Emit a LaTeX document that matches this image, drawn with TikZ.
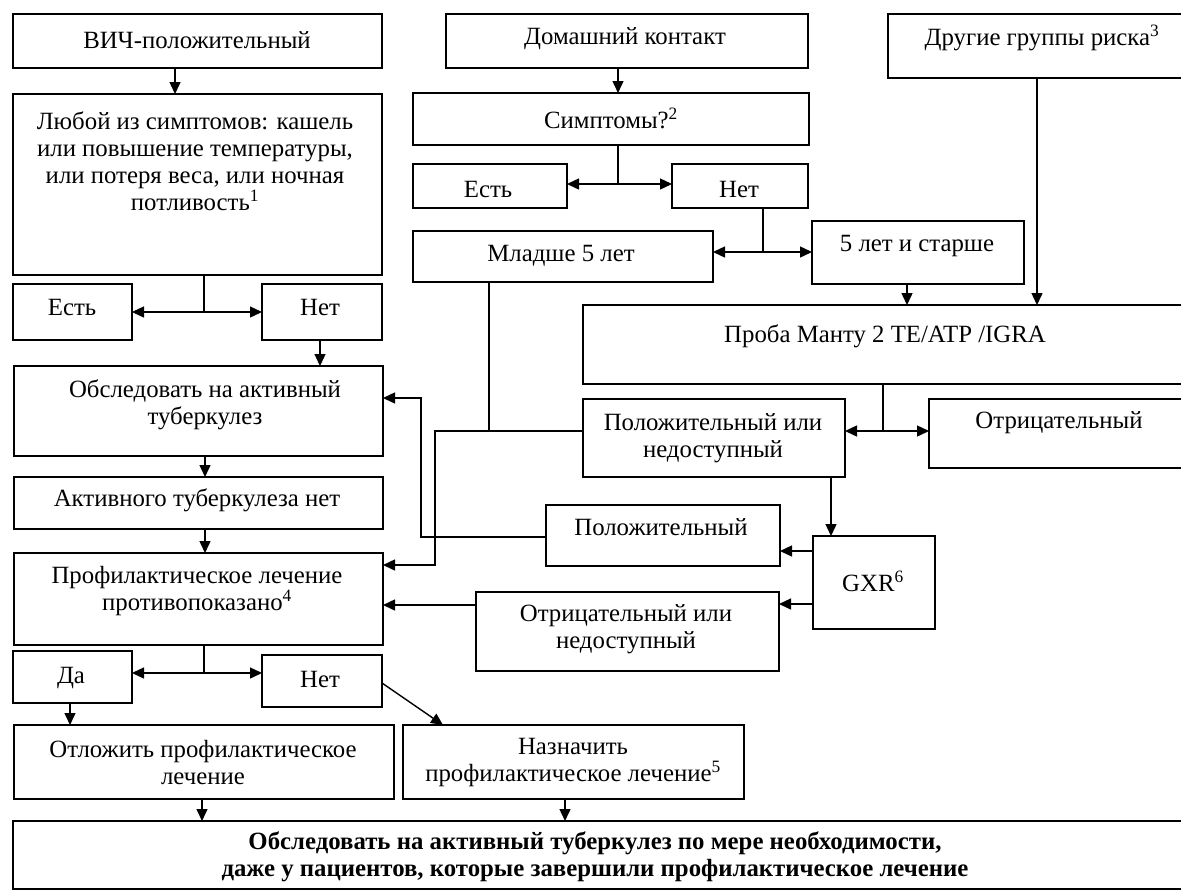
\documentclass[tikz,border=0pt]{standalone}
\usepackage{fontspec}
\setmainfont{Liberation Serif}
\usetikzlibrary{arrows.meta}
\newcommand{\bx}[5]{%
 \pgfmathsetmacro{\bw}{#4-#2}\pgfmathsetmacro{\bh}{#5-#3}%
 \pgfmathsetmacro{\bcx}{(#2+#4)/2}\pgfmathsetmacro{\bcy}{(#3+#5)/2}%
 \node[box,minimum width=\bw pt,minimum height=\bh pt] (#1) at (\bcx,\bcy) {};}
\begin{document}
\begin{tikzpicture}[x=1pt,y=-1pt,
  box/.style={draw,line width=1.4pt,inner sep=0pt,outer sep=0pt},
  txt/.style={align=center,font=\fontsize{24.8}{27}\selectfont,inner sep=0pt},
  ln/.style={line width=1.4pt},
  arr/.style={line width=1.4pt,-{Triangle[length=12pt,width=11pt]}},
  arr2/.style={line width=1.4pt,{Triangle[length=12pt,width=11pt]}-{Triangle[length=12pt,width=11pt]}}]
\useasboundingbox[fill=white] (0,0) rectangle (1181,892);
\clip (0,0) rectangle (1181,892);
% boxes
\bx{vich}{13}{14}{382}{68}
\bx{lyub}{13}{94}{382}{275}
\bx{est1}{13}{284}{132}{340}
\bx{net1}{262}{284}{382}{340}
\bx{obsl}{14}{366}{383}{456}
\bx{aktiv}{14}{477}{383}{529}
\bx{prof}{14}{553}{383}{645}
\bx{da}{13}{651}{132}{703}
\bx{net2}{262}{655}{382}{707}
\bx{otl}{14}{725}{394}{799}
\bx{nazn}{403}{725}{744}{799}
\bx{bottom}{13}{821}{1195}{889}
\bx{dom}{446}{14}{808}{68}
\bx{simp}{413}{93}{809}{145}
\bx{est2}{413}{164}{567}{208}
\bx{net3}{672}{164}{808}{208}
\bx{mlad}{413}{231}{713}{282}
\bx{pyat}{812}{221}{1024}{284}
\bx{drug}{888}{14}{1195}{78}
\bx{proba}{583}{305}{1195}{384}
\bx{pol}{583}{399}{845}{477}
\bx{otr}{929}{399}{1195}{468}
\bx{polozh}{546}{505}{780}{566}
\bx{gxr}{813}{536}{935}{629}
\bx{otrn}{476}{592}{779}{671}
% texts
\node[txt] (tvich) at (197,40) {ВИЧ-положительный};
\node[txt] (tlyub) at (195,161) {Любой из симптомов: кашель\\или повышение температуры,\\или потеря веса, или ночная\\потливость\textsuperscript{1}};
\node[txt] (test1) at (72,307) {Есть};
\node[txt] (tnet1) at (320,307) {Нет};
\node[txt] (tobsl) at (205,405) {Обследовать на активный\\туберкулез};
\node[txt] (taktiv) at (197,500) {Активного туберкулеза нет};
\node[txt] (tprof) at (197,591) {Профилактическое лечение\\противопоказано\textsuperscript{4}};
\node[txt] (tda) at (71,678) {Да};
\node[txt] (tnet2) at (320,679) {Нет};
\node[txt] (totl) at (203,763) {Отложить профилактическое\\лечение};
\node[txt] (tnazn) at (573,763) {Назначить\\профилактическое лечение\textsuperscript{5}};
\node[txt,font=\fontsize{24.8}{27}\selectfont\bfseries] (tbottom) at (595,857) {Обследовать на активный туберкулез по мере необходимости,\\даже у пациентов, которые завершили профилактическое лечение};
\node[txt] (tdom) at (625,39) {Домашний контакт};
\node[txt] (tsimp) at (611,118) {Симптомы?\textsuperscript{2}};
\node[txt] (test2) at (488,189) {Есть};
\node[txt] (tnet3) at (739,189) {Нет};
\node[txt] (tmlad) at (561,256) {Младше 5 лет};
\node[txt] (tpyat) at (917,246) {5 лет и старше};
\node[txt] (tdrug) at (1042,38) {Другие группы риска\textsuperscript{3}};
\node[txt] (tproba) at (885,336) {Проба Манту 2 TE/ATP /IGRA};
\node[txt] (tpol) at (713,438) {Положительный или\\недоступный};
\node[txt] (totr) at (1059,423) {Отрицательный};
\node[txt] (tpolozh) at (661,527) {Положительный};
\node[txt] (tgxr) at (873,581) {GXR\textsuperscript{6}};
\node[txt] (totrn) at (626,629) {Отрицательный или\\недоступный};
% connectors
\draw[arr] (175,0 |- vich.south) -- (175,0 |- lyub.north);
\draw[ln] (204,0 |- lyub.south) -- (204,312);
\draw[arr2] (est1.east |- 0,312) -- (net1.west |- 0,312);
\draw[arr] (320,0 |- net1.south) -- (320,0 |- obsl.north);
\draw[arr] (205,0 |- obsl.south) -- (205,0 |- aktiv.north);
\draw[arr] (205,0 |- aktiv.south) -- (205,0 |- prof.north);
\draw[ln] (204,0 |- prof.south) -- (204,673);
\draw[arr2] (da.east |- 0,673) -- (net2.west |- 0,673);
\draw[arr] (70,0 |- da.south) -- (70,0 |- otl.north);
\draw[arr] (net2.east |- 0,683) -- (443,0 |- nazn.north);
\draw[arr] (202,0 |- otl.south) -- (202,0 |- bottom.north);
\draw[arr] (565,0 |- nazn.south) -- (565,0 |- bottom.north);
\draw[arr] (618,0 |- dom.south) -- (618,0 |- simp.north);
\draw[ln] (618,0 |- simp.south) -- (618,184);
\draw[arr2] (est2.east |- 0,184) -- (net3.west |- 0,184);
\draw[ln] (763,0 |- net3.south) -- (763,252);
\draw[arr2] (mlad.east |- 0,252) -- (pyat.west |- 0,252);
\draw[arr] (907,0 |- pyat.south) -- (907,0 |- proba.north);
\draw[arr] (1037,0 |- drug.south) -- (1037,0 |- proba.north);
\draw[ln] (883,0 |- proba.south) -- (883,431);
\draw[arr2] (pol.east |- 0,431) -- (otr.west |- 0,431);
\draw[arr] (831,0 |- pol.south) -- (831,0 |- gxr.north);
\draw[arr] (gxr.west |- 0,551) -- (polozh.east |- 0,551);
\draw[arr] (gxr.west |- 0,604) -- (otrn.east |- 0,604);
\draw[arr] (otrn.west |- 0,605) -- (prof.east |- 0,605);
\draw[arr] (polozh.west |- 0,537) -- (421,537) -- (421,398) -- (obsl.east |- 0,398);
\draw[arr] (pol.west |- 0,431) -- (435,431) -- (435,565) -- (prof.east |- 0,565);
\draw[ln] (489,0 |- mlad.south) -- (489,431);
\end{tikzpicture}
\end{document}
